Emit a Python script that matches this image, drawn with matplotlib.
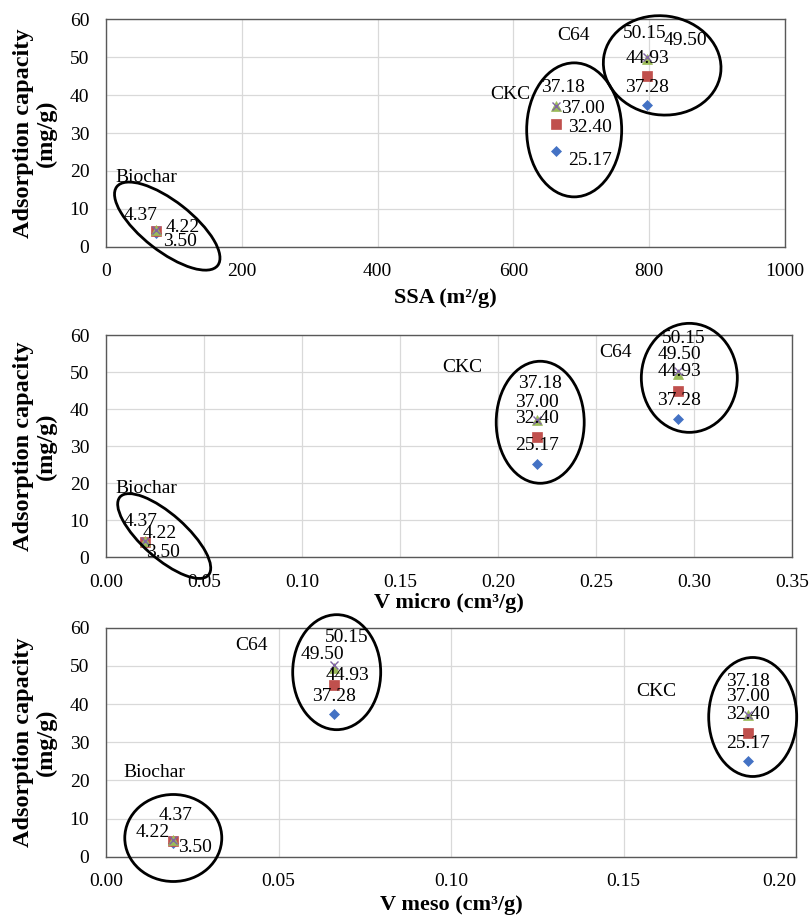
"""Adsorption capacity versus SSA, V micro and V meso for three carbons."""

import matplotlib

matplotlib.use("Agg")

import matplotlib.pyplot as plt
from matplotlib.patches import Ellipse
from matplotlib.ticker import FormatStrFormatter
from matplotlib.transforms import ScaledTranslation

plt.rcParams["font.family"] = ["Liberation Serif", "DejaVu Serif"]

FIG_W, FIG_H, DPI = 810, 918, 100

materials = ["Biochar", "CKC", "C64"]
ssa = [74, 663, 797]
v_micro = [0.020, 0.220, 0.292]
v_meso = [0.0195, 0.186, 0.066]

# four measured adsorption capacities (mg/g) per material
series_1 = [3.50, 25.17, 37.28]
series_2 = [4.22, 32.40, 44.93]
series_3 = [4.37, 37.00, 49.50]
series_4 = [4.37, 37.18, 50.15]

y_ticks = [0, 10, 20, 30, 40, 50, 60]

SERIES = [
    (series_1, "D", "#4472C4", 5),
    (series_2, "s", "#C0504D", 6.5),
    (series_3, "^", "#9BBB59", 6.5),
    (series_4, "x", "#8064A2", 6),
]

# per panel layout: axes box in pixels (left, top, right, bottom),
# label offsets in pixels [material][series], ellipse (dx, dy, w, h, angle),
# name label offsets
PANELS = [
    dict(
        x=ssa, xlim=(0, 1000), xticks=[0, 200, 400, 600, 800, 1000], fmt="%d",
        xlabel="SSA (m²/g)", box=(106, 19.3, 785, 246.7), xlabel_y=298,
        last_right=False,
        labels=[
            [(24, -8), (27, 3), (-16, 15), None],
            [(34, -9), (34, -4), (27, -2.5), (7, 18)],
            [(0, 18), (0, 18), (38, 19), (-2, 23.6)],
        ],
        ellipses=[(11, 5, 128, 50, -38), (18, -8, 95, 134, 0), (15, 9, 118, 99, -8)],
        names=[(-10, 54), (-46, 27), (-74, 39)],
    ),
    dict(
        x=v_micro, xlim=(0, 0.35), xticks=[0, 0.05, 0.10, 0.15, 0.20, 0.25, 0.30, 0.35],
        fmt="%.2f", xlabel="V micro (cm³/g)", box=(106, 335, 792, 557.3), xlabel_y=603,
        last_right=False,
        labels=[
            [(18, -8), (15, 8), (-5, 20), None],
            [(0, 19), (0, 19), (0, 18), (3, 36.5)],
            [(1, 19), (1, 19), (1, 19), (5, 32.5)],
        ],
        ellipses=[(19, 6, 118, 44, -41.5), (3, 13, 88, 122, 0), (11, 11, 96, 109, 0)],
        names=[(1, 54), (-75, 68), (-63, 36)],
    ),
    dict(
        x=v_meso, xlim=(0, 0.20), xticks=[0, 0.05, 0.10, 0.15, 0.20], fmt="%.2f",
        xlabel="V meso (cm³/g)", box=(106, 627.7, 796, 856.7), xlabel_y=905,
        last_right=True,
        labels=[
            [(22, -4), (-21, 7.6), (2, 25), None],
            [(0, 17.6), (0, 19), (0, 18.5), (0, 33)],
            [(0, 18), (14, 10), (-11, 13), (13, 28)],
        ],
        ellipses=[(0, 3, 97, 87, 0), (5, 14, 88, 119, 0), (3, 11, 88, 115, 0)],
        names=[(-19, 68), (-91, 39), (-82, 38)],
    ),
]

fig = plt.figure(figsize=(FIG_W / DPI, FIG_H / DPI), dpi=DPI)

for panel in PANELS:
    left, top, right, bottom = panel["box"]
    ax = fig.add_axes(
        [left / FIG_W, 1 - bottom / FIG_H, (right - left) / FIG_W, (bottom - top) / FIG_H]
    )
    xs = panel["x"]
    for values, marker, color, size in SERIES:
        ax.plot(xs, values, linestyle="none", marker=marker, color=color,
                markersize=size, markeredgewidth=1.0 if marker == "x" else 0.5,
                clip_on=False, zorder=3)

    for i, name in enumerate(materials):
        group = [s[0][i] for s in SERIES]
        y_mid = sum(group) / len(group)
        for (values, *_), offset in zip(SERIES, panel["labels"][i]):
            if offset is None:
                continue
            ax.annotate(f"{values[i]:.2f}", (xs[i], values[i]), xytext=offset,
                        textcoords="offset pixels", ha="center", va="center",
                        fontsize=14, zorder=4, annotation_clip=False)
        ax.annotate(name, (xs[i], y_mid), xytext=panel["names"][i],
                    textcoords="offset pixels", ha="center", va="center",
                    fontsize=14, annotation_clip=False)
        dx, dy, w, h, angle = panel["ellipses"][i]
        trans = fig.dpi_scale_trans + ScaledTranslation(xs[i], y_mid, ax.transData)
        ax.add_patch(Ellipse((dx / DPI, dy / DPI), w / DPI, h / DPI, angle=angle,
                             transform=trans, fill=False, edgecolor="black",
                             linewidth=2.0, clip_on=False, zorder=5))

    ax.set_xlim(*panel["xlim"])
    ax.set_ylim(0, 60)
    ax.set_xticks(panel["xticks"])
    ax.set_yticks(y_ticks)
    ax.xaxis.set_major_formatter(FormatStrFormatter(panel["fmt"]))
    ax.tick_params(length=0, labelsize=14, pad=12, colors="black")
    if panel["last_right"]:
        ax.xaxis.get_major_ticks()[-1].label1.set_horizontalalignment("right")
    ax.grid(True, color="#D9D9D9", linewidth=0.9)
    ax.set_axisbelow(True)
    for spine in ax.spines.values():
        spine.set_color("#595959")
        spine.set_linewidth(1.0)

    fig.text(((left + right) / 2) / FIG_W, 1 - panel["xlabel_y"] / FIG_H,
             panel["xlabel"], ha="center", va="center", fontsize=16, fontweight="bold")
    fig.text(35 / FIG_W, 1 - ((top + bottom) / 2) / FIG_H,
             "Adsorption capacity\n(mg/g)", rotation=90, ha="center", va="center",
             multialignment="center", fontsize=17.5, fontweight="bold", linespacing=1.1)

fig.savefig("out.png", dpi=DPI, facecolor="white")
plt.close(fig)
